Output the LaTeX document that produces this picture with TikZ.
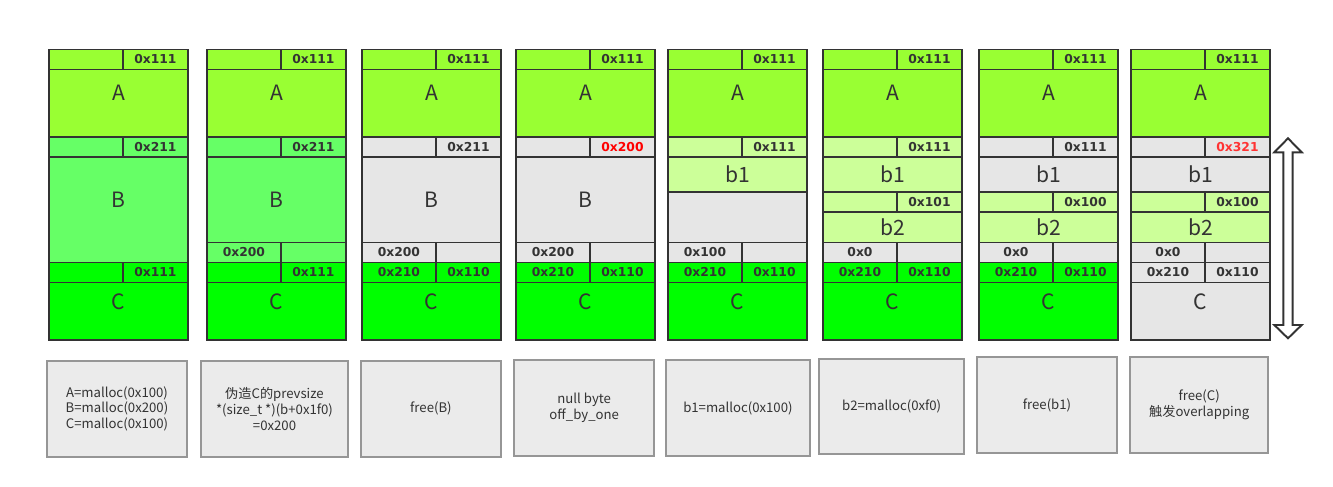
\documentclass[tikz,border=0pt]{standalone}
\usepackage{fontspec}
\setmainfont{Noto Sans CJK SC}
\newfontfamily\hexfont{DejaVu Sans}
\usetikzlibrary{positioning}
\definecolor{chunkA}{RGB}{153,255,51}
\definecolor{chunkB}{RGB}{102,255,102}
\definecolor{chunkC}{RGB}{0,255,0}
\definecolor{chunkb}{RGB}{204,255,153}
\definecolor{freed}{RGB}{230,230,230}
\definecolor{cellline}{RGB}{51,51,51}
\definecolor{notefill}{RGB}{235,235,235}
\definecolor{notegray}{RGB}{150,150,150}
\definecolor{warn}{RGB}{255,0,0}
\definecolor{warnlight}{RGB}{255,51,51}

\begin{document}
\begin{tikzpicture}[
    x=0.02cm, y=-0.02cm,
    % Styles
    cell/.style={
        draw=cellline, line width=1.1pt, inner sep=0pt,
        anchor=north west, text=cellline
    },
    wide/.style={minimum width=139*0.02cm},
    lhalf/.style={
        minimum width=74*0.02cm,
        font=\hexfont\bfseries\fontsize{7}{8}\selectfont
    },
    rhalf/.style={
        minimum width=65*0.02cm,
        font=\hexfont\bfseries\fontsize{7}{8}\selectfont
    },
    tall/.style={minimum height=#1*0.02cm},
    big/.style={font=\fontsize{12}{14}\selectfont},
    lift/.style={text depth=20*0.02cm},
    note/.style={
        draw=notegray, line width=1.1pt, fill=notefill,
        align=center, text=cellline,
        font=\fontsize{7.5}{9}\selectfont
    }
]
\useasboundingbox (0,0) rectangle (1333,487);

% Chunk A, the same in every step
\foreach \L [count=\i] in {48,206,361,515,667,822,978,1130} {
    \node[cell, lhalf, tall=20, fill=chunkA] (hdA\i) at (\L,48.5) {};
    \node[cell, rhalf, tall=20, fill=chunkA] (szA\i) at (\L+74,48.5) {0x111};
    \node[cell, wide, tall=67.5, fill=chunkA, big, lift] (A\i) at (\L,68.5) {A};
}

% Chunk C body
\foreach \L/\c [count=\i] in {48/chunkC,206/chunkC,361/chunkC,515/chunkC,
                              667/chunkC,822/chunkC,978/chunkC,1130/freed} {
    \node[cell, wide, tall=57.5, fill=\c, big, lift] (C\i) at (\L,281.5) {C};
}

% Step 1: A, B, C = malloc
\node[cell, lhalf, tall=20, fill=chunkB] (hdB1) at (48,136) {};
\node[cell, rhalf, tall=20, fill=chunkB] (szB1) at (122,136) {0x211};
\node[cell, wide, tall=105.5, fill=chunkB, big, lift] (B1) at (48,156) {B};
\node[cell, lhalf, tall=20, fill=chunkC] (hdC1) at (48,261.5) {};
\node[cell, rhalf, tall=20, fill=chunkC] (szC1) at (122,261.5) {0x111};

% Step 2: fake prev_size
\node[cell, lhalf, tall=20, fill=chunkB] (hdB2) at (206,136) {};
\node[cell, rhalf, tall=20, fill=chunkB] (szB2) at (280,136) {0x211};
\node[cell, wide, tall=85.5, fill=chunkB, big] (B2) at (206,156) {B};
\node[cell, lhalf, tall=20, fill=chunkB] (fk2) at (206,241.5) {0x200};
\node[cell, rhalf, tall=20, fill=chunkB] (fkr2) at (280,241.5) {};
\node[cell, lhalf, tall=20, fill=chunkC] (hdC2) at (206,261.5) {};
\node[cell, rhalf, tall=20, fill=chunkC] (szC2) at (280,261.5) {0x111};

% Step 3: free(B)
\node[cell, lhalf, tall=20, fill=freed] (hdB3) at (361,136) {};
\node[cell, rhalf, tall=20, fill=freed] (szB3) at (435,136) {0x211};
\node[cell, wide, tall=85.5, fill=freed, big] (B3) at (361,156) {B};
\node[cell, lhalf, tall=20, fill=freed] (fk3) at (361,241.5) {0x200};
\node[cell, rhalf, tall=20, fill=freed] (fkr3) at (435,241.5) {};
\node[cell, lhalf, tall=20, fill=chunkC] (hdC3) at (361,261.5) {0x210};
\node[cell, rhalf, tall=20, fill=chunkC] (szC3) at (435,261.5) {0x110};

% Step 4: null byte
\node[cell, lhalf, tall=20, fill=freed] (hdB4) at (515,136) {};
\node[cell, rhalf, tall=20, fill=freed, text=warn] (szB4) at (589,136) {0x200};
\node[cell, wide, tall=85.5, fill=freed, big] (B4) at (515,156) {B};
\node[cell, lhalf, tall=20, fill=freed] (fk4) at (515,241.5) {0x200};
\node[cell, rhalf, tall=20, fill=freed] (fkr4) at (589,241.5) {};
\node[cell, lhalf, tall=20, fill=chunkC] (hdC4) at (515,261.5) {0x210};
\node[cell, rhalf, tall=20, fill=chunkC] (szC4) at (589,261.5) {0x110};

% Step 5: b1 = malloc
\node[cell, lhalf, tall=20, fill=chunkb] (hdb5) at (667,136) {};
\node[cell, rhalf, tall=20, fill=chunkb] (szb5) at (741,136) {0x111};
\node[cell, wide, tall=35, fill=chunkb, big] (bone5) at (667,156) {b1};
\node[cell, wide, tall=50.5, fill=freed] (rest5) at (667,191) {};
\node[cell, lhalf, tall=20, fill=freed] (fk5) at (667,241.5) {0x100};
\node[cell, rhalf, tall=20, fill=freed] (fkr5) at (741,241.5) {};
\node[cell, lhalf, tall=20, fill=chunkC] (hdC5) at (667,261.5) {0x210};
\node[cell, rhalf, tall=20, fill=chunkC] (szC5) at (741,261.5) {0x110};

% Step 6: b2 = malloc
\node[cell, lhalf, tall=20, fill=chunkb] (hdb6) at (822,136) {};
\node[cell, rhalf, tall=20, fill=chunkb] (szb6) at (896,136) {0x111};
\node[cell, wide, tall=35, fill=chunkb, big] (bone6) at (822,156) {b1};
\node[cell, lhalf, tall=20, fill=chunkb] (hdbb6) at (822,191) {};
\node[cell, rhalf, tall=20, fill=chunkb] (szbb6) at (896,191) {0x101};
\node[cell, wide, tall=30.5, fill=chunkb, big] (btwo6) at (822,211) {b2};
\node[cell, lhalf, tall=20, fill=freed] (fk6) at (822,241.5) {0x0};
\node[cell, rhalf, tall=20, fill=freed] (fkr6) at (896,241.5) {};
\node[cell, lhalf, tall=20, fill=chunkC] (hdC6) at (822,261.5) {0x210};
\node[cell, rhalf, tall=20, fill=chunkC] (szC6) at (896,261.5) {0x110};

% Step 7: free(b1)
\node[cell, lhalf, tall=20, fill=freed] (hdb7) at (978,136) {};
\node[cell, rhalf, tall=20, fill=freed] (szb7) at (1052,136) {0x111};
\node[cell, wide, tall=35, fill=freed, big] (bone7) at (978,156) {b1};
\node[cell, lhalf, tall=20, fill=chunkb] (hdbb7) at (978,191) {};
\node[cell, rhalf, tall=20, fill=chunkb] (szbb7) at (1052,191) {0x100};
\node[cell, wide, tall=30.5, fill=chunkb, big] (btwo7) at (978,211) {b2};
\node[cell, lhalf, tall=20, fill=freed] (fk7) at (978,241.5) {0x0};
\node[cell, rhalf, tall=20, fill=freed] (fkr7) at (1052,241.5) {};
\node[cell, lhalf, tall=20, fill=chunkC] (hdC7) at (978,261.5) {0x210};
\node[cell, rhalf, tall=20, fill=chunkC] (szC7) at (1052,261.5) {0x110};

% Step 8: free(C)
\node[cell, lhalf, tall=20, fill=freed] (hdb8) at (1130,136) {};
\node[cell, rhalf, tall=20, fill=freed, text=warnlight] (szb8) at (1204,136) {0x321};
\node[cell, wide, tall=35, fill=freed, big] (bone8) at (1130,156) {b1};
\node[cell, lhalf, tall=20, fill=chunkb] (hdbb8) at (1130,191) {};
\node[cell, rhalf, tall=20, fill=chunkb] (szbb8) at (1204,191) {0x100};
\node[cell, wide, tall=30.5, fill=chunkb, big] (btwo8) at (1130,211) {b2};
\node[cell, lhalf, tall=20, fill=freed] (fk8) at (1130,241.5) {0x0};
\node[cell, rhalf, tall=20, fill=freed] (fkr8) at (1204,241.5) {};
\node[cell, lhalf, tall=20, fill=freed] (hdC8) at (1130,261.5) {0x210};
\node[cell, rhalf, tall=20, fill=freed] (szC8) at (1204,261.5) {0x110};

% Overlapping range
\draw[draw=cellline, line width=1.1pt, fill=white]
    (1288,138.3) -- (1301.7,152.3) -- (1292.7,152.3) -- (1292.7,325)
    -- (1301.7,325) -- (1288,338.3) -- (1274.3,325) -- (1283.3,325)
    -- (1283.3,152.3) -- (1274.3,152.3) -- cycle;

% Operations
\node[note, minimum width=140*0.02cm, minimum height=95.7*0.02cm] (op1) at (117,408.8)
    {A=malloc(0x100)\\B=malloc(0x200)\\C=malloc(0x100)};
\node[note, minimum width=147*0.02cm, minimum height=95.7*0.02cm] (op2) at (274.5,408.8)
    {伪造C的prevsize\\*(size\_t *)(b+0x1f0)\\=0x200};
\node[note, minimum width=140*0.02cm, minimum height=95.7*0.02cm] (op3) at (430.9,408.8)
    {free(B)};
\node[note, minimum width=139.7*0.02cm, minimum height=95.7*0.02cm] (op4) at (584.2,407.9)
    {null byte\\off\_by\_one};
\node[note, minimum width=144.3*0.02cm, minimum height=95.7*0.02cm] (op5) at (737.9,407.9)
    {b1=malloc(0x100)};
\node[note, minimum width=144.7*0.02cm, minimum height=95*0.02cm] (op6) at (891.7,406.5)
    {b2=malloc(0xf0)};
\node[note, minimum width=139.4*0.02cm, minimum height=95.4*0.02cm] (op7) at (1047,405)
    {free(b1)};
\node[note, minimum width=138.3*0.02cm, minimum height=95.7*0.02cm] (op8) at (1199.2,404.9)
    {free(C)\\触发overlapping};

\end{tikzpicture}
\end{document}
